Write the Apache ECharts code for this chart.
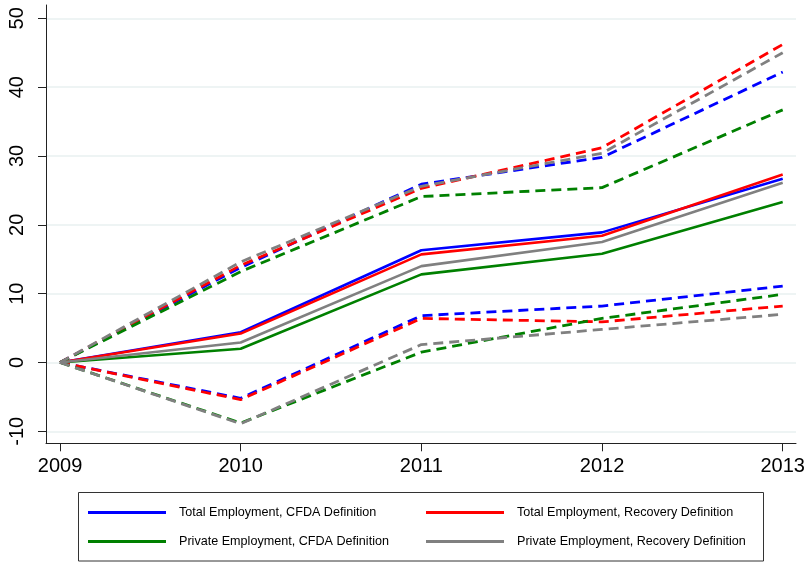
<!DOCTYPE html>
<html>
<head>
<meta charset="utf-8">
<script src="https://cdn.jsdelivr.net/npm/echarts@6/dist/echarts.min.js"></script>
<style>
  html, body { margin: 0; padding: 0; background: #fff; }
  #chart { width: 809px; height: 563px; }
</style>
</head>
<body>
<div id="chart"></div>
<script>
// Years on the horizontal axis
const years = [2009, 2010, 2011, 2012, 2013];
const yTicks = [-10, 0, 10, 20, 30, 40, 50];

// Point estimates (solid) with lower / upper bounds (dashed)
const totalCfda          = [0, 4.4, 16.3, 18.9, 26.7];
const totalCfdaUpper     = [0, 13.8, 25.9, 29.8, 42.2];
const totalCfdaLower     = [0, -5.2, 6.8, 8.2, 11.1];

const totalRecovery      = [0, 4.2, 15.7, 18.4, 27.3];
const totalRecoveryUpper = [0, 14.1, 25.3, 31.2, 46.2];
const totalRecoveryLower = [0, -5.4, 6.4, 5.9, 8.2];

const privateCfda        = [0, 2.0, 12.8, 15.8, 23.3];
const privateCfdaUpper   = [0, 13.2, 24.1, 25.4, 36.7];
const privateCfdaLower   = [0, -8.8, 1.5, 6.4, 9.9];

const privateRecovery      = [0, 2.9, 14.0, 17.5, 26.1];
const privateRecoveryUpper = [0, 14.6, 25.6, 30.4, 45.0];
const privateRecoveryLower = [0, -8.9, 2.6, 4.8, 7.0];

const groups = [
  { name: 'Total Employment, CFDA Definition', color: '#0000ff', mid: totalCfda, hi: totalCfdaUpper, lo: totalCfdaLower },
  { name: 'Total Employment, Recovery Definition', color: '#ff0000', mid: totalRecovery, hi: totalRecoveryUpper, lo: totalRecoveryLower },
  { name: 'Private Employment, CFDA Definition', color: '#008000', mid: privateCfda, hi: privateCfdaUpper, lo: privateCfdaLower },
  { name: 'Private Employment, Recovery Definition', color: '#808080', mid: privateRecovery, hi: privateRecoveryUpper, lo: privateRecoveryLower }
];

const pairs = arr => years.map((y, i) => [y, arr[i]]);

const series = [];
groups.forEach(g => {
  series.push({
    name: g.name, type: 'line', data: pairs(g.mid), showSymbol: false, symbol: 'none',
    lineStyle: { color: g.color, width: 2.6 }, itemStyle: { color: g.color }, silent: true
  });
  series.push({
    name: g.name + ' (upper bound)', type: 'line', data: pairs(g.hi), showSymbol: false, symbol: 'none',
    lineStyle: { color: g.color, width: 2.8, type: [10, 6] }, itemStyle: { color: g.color }, silent: true
  });
  series.push({
    name: g.name + ' (lower bound)', type: 'line', data: pairs(g.lo), showSymbol: false, symbol: 'none',
    lineStyle: { color: g.color, width: 2.8, type: [10, 6] }, itemStyle: { color: g.color }, silent: true
  });
});

const font = 'Liberation Sans, Arial, sans-serif';
const legendText = { fontFamily: font, fontSize: 12.6, color: '#000', padding: [0, 0, 0, 8] };

const chart = echarts.init(document.getElementById('chart'), null, { renderer: 'canvas' });
chart.setOption({
  animation: false,
  backgroundColor: '#fff',
  grid: { left: 46, right: 13, top: 5, bottom: 119.7, containLabel: false },
  xAxis: {
    type: 'value',
    min: 2008.9225, max: 2013.0736,
    axisLine: { show: true, onZero: false, lineStyle: { color: '#222', width: 1 } },
    axisTick: { show: true, length: 8, lineStyle: { color: '#222' }, customValues: years },
    axisLabel: { customValues: years, color: '#000', fontFamily: font, fontSize: 20, margin: 13.5,
                 formatter: v => String(Math.round(v)) },
    splitLine: { show: false }
  },
  yAxis: {
    type: 'value',
    min: -11.74, max: 51.93,
    axisLine: { show: true, onZero: false, lineStyle: { color: '#222', width: 1 } },
    axisTick: { show: true, length: 8, lineStyle: { color: '#222' }, customValues: yTicks },
    axisLabel: { customValues: yTicks, rotate: 90, color: '#000', fontFamily: font, fontSize: 20, margin: 19,
                 formatter: v => String(Math.round(v)) },
    splitLine: { show: true, lineStyle: { color: '#e9f0f1', width: 1.5 } }
  },
  legend: [
    {
      data: [groups[0].name, groups[2].name], orient: 'vertical', left: 88, top: 506,
      itemWidth: 78, itemHeight: 3, itemGap: 16, icon: 'rect', padding: 0,
      textStyle: legendText, selectedMode: false
    },
    {
      data: [groups[1].name, groups[3].name], orient: 'vertical', left: 426, top: 506,
      itemWidth: 78, itemHeight: 3, itemGap: 16, icon: 'rect', padding: 0,
      textStyle: legendText, selectedMode: false
    }
  ],
  graphic: [
    { type: 'rect', shape: { x: 78.5, y: 492.5, width: 685, height: 68.5 },
      style: { fill: 'none', stroke: '#333', lineWidth: 1 }, silent: true }
  ],
  series: series
});
</script>
</body>
</html>
